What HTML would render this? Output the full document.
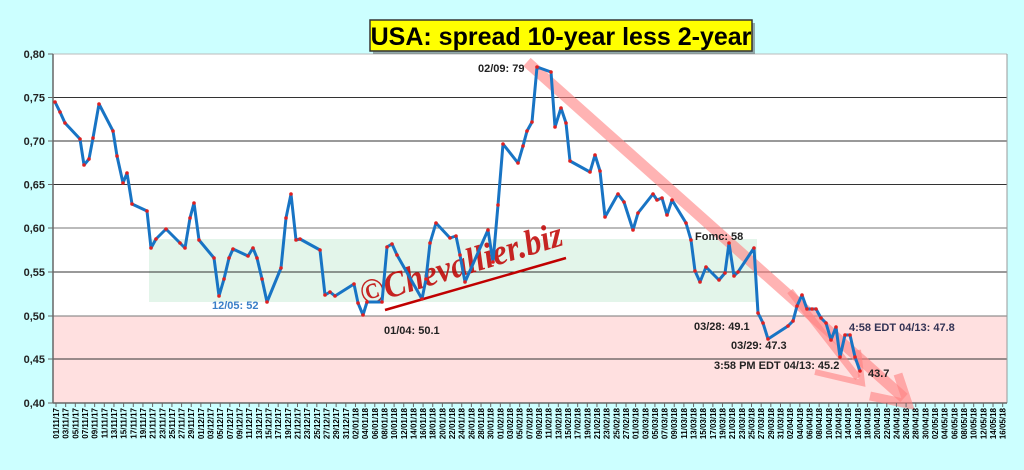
<!DOCTYPE html>
<html><head><meta charset="utf-8"><style>
html,body{margin:0;padding:0;background:#ccffff;}
svg{display:block;font-family:"Liberation Sans",Arial,sans-serif;}
</style></head><body>
<svg width="1024" height="470" viewBox="0 0 1024 470" xmlns="http://www.w3.org/2000/svg">
<rect x="0" y="0" width="1024" height="470" fill="#ccffff"/>
<rect x="53" y="54" width="954" height="349" fill="#ffffff"/>
<rect x="53" y="316" width="954" height="87" fill="#ffe0e0"/>
<rect x="149" y="239" width="608" height="63" fill="#e3f5ea"/>
<g stroke="#333" stroke-width="1">
<line x1="53" y1="97.5" x2="1007" y2="97.5"/>
<line x1="53" y1="141" x2="1007" y2="141"/>
<line x1="53" y1="184.5" x2="1007" y2="184.5"/>
<line x1="53" y1="228" x2="1007" y2="228" stroke="#777"/>
<line x1="53" y1="272" x2="1007" y2="272"/>
<line x1="53" y1="316" x2="1007" y2="316" stroke="#777"/>
<line x1="53" y1="359" x2="1007" y2="359"/>
</g>
<line x1="53" y1="54" x2="1007" y2="54" stroke="#bbb"/>
<line x1="1007" y1="54" x2="1007" y2="403" stroke="#999"/>
<line x1="53" y1="54" x2="53" y2="403" stroke="#666" stroke-width="1.5"/>
<line x1="53" y1="403" x2="1007" y2="403" stroke="#666" stroke-width="1.5"/>
<g stroke="#666" stroke-width="1">
<line x1="48" y1="54" x2="53" y2="54"/><line x1="48" y1="97.5" x2="53" y2="97.5"/><line x1="48" y1="141" x2="53" y2="141"/><line x1="48" y1="184.5" x2="53" y2="184.5"/><line x1="48" y1="228" x2="53" y2="228"/><line x1="48" y1="272" x2="53" y2="272"/><line x1="48" y1="316" x2="53" y2="316"/><line x1="48" y1="359" x2="53" y2="359"/><line x1="48" y1="403" x2="53" y2="403"/>
</g>
<g font-size="11" font-weight="bold" fill="#222" text-anchor="end">
<text x="45" y="58">0,80</text><text x="45" y="101.5">0,75</text><text x="45" y="145">0,70</text><text x="45" y="188.5">0,65</text><text x="45" y="232">0,60</text><text x="45" y="276">0,55</text><text x="45" y="320">0,50</text><text x="45" y="363">0,45</text><text x="45" y="407">0,40</text>
</g>
<!-- watermark -->
<text x="0" y="0" transform="translate(364,306) rotate(-17)" font-family="'Liberation Serif',serif" font-style="italic" font-weight="bold" font-size="36" fill="#c00000" opacity="0.85" textLength="210" lengthAdjust="spacingAndGlyphs">©Chevallier.biz</text>
<line x1="385" y1="310" x2="566" y2="258" stroke="#c00000" stroke-width="2.5"/>
<!-- red arrows -->
<g stroke="#ff8080" stroke-opacity="0.6" fill="none" stroke-linecap="butt">
<line x1="527" y1="62" x2="904" y2="398" stroke-width="11"/>
<polyline points="870,396 908,404 898,374" stroke-width="9"/>
<line x1="790" y1="291" x2="858" y2="378" stroke-width="7"/>
<polyline points="815,372 862,383 858,350" stroke-width="6"/>
</g>
<!-- series -->
<polyline id="ser" fill="none" stroke="#1874c4" stroke-width="3" stroke-linejoin="round" points="55,102 60,112 65,123 80,139 84,165 89,159 93,138 99,104 113,131 117,156 123,183 127,173 132,204 147,211 151,248 156,239 166,229 180,243 185,248 190,218 194,203 199,240 214,258 219,296 224,279 229,258 233,249 248,256 253,248 257,258 262,279 267,302 281,268 286,218 291,194 296,240 300,239 320,250 325,295 330,292 335,296 354,284 358,303 363,315 367,302 382,302 387,247 392,244 397,255 422,299 426,279 430,243 436,223 450,238 456,236 460,255 465,282 488,230 493,262 498,205 503,144 518,163 523,146 527,131 532,122 537,67 551,72 555,127 561,108 566,123 570,161 590,172 595,155 600,171 605,217 618,194 624,202 633,230 638,213 653,194 657,200 662,198 667,215 672,200 686,223 691,240 695,271 700,282 706,267 719,280 725,273 729,243 734,276 738,272 754,248 758,313 763,323 768,339 788,326 793,321 797,306 802,295 807,309 812,309 816,309 821,318 826,323 831,340 836,327 840,357 845,335 850,335 855,357 860,371"/>
<g fill="#e02020" id="pts"></g>
<!-- annotations -->
<g font-size="11" font-weight="bold" fill="#222">
<text x="212" y="309" fill="#3a7fc8">12/05: 52</text>
<text x="384" y="334">01/04: 50.1</text>
<text x="478" y="72">02/09: 79</text>
<text x="695" y="240">Fomc: 58</text>
<text x="694" y="330">03/28: 49.1</text>
<text x="731" y="349">03/29: 47.3</text>
<text x="714" y="369">3:58 PM EDT 04/13: 45.2</text>
<text x="849" y="331" fill="#333355">4:58 EDT 04/13: 47.8</text>
<text x="868" y="377">43.7</text>
</g>
<!-- title -->
<rect x="373" y="23" width="382" height="31" fill="#555" opacity="0.5"/>
<rect x="370" y="20" width="382" height="31" fill="#ffff00" stroke="#333" stroke-width="1.5"/>
<text x="561" y="45" text-anchor="middle" font-size="25" font-weight="bold" fill="#000">USA: spread 10-year less 2-year</text>
<g id="xt"></g>
<g id="xl" font-size="8" font-weight="bold" fill="#000"></g>
</svg>
<script>
(function(){
var ns="http://www.w3.org/2000/svg";
var pl=document.getElementById("ser").getAttribute("points").trim().split(/\s+/);
var g=document.getElementById("pts");
pl.forEach(function(p){var a=p.split(",");var c=document.createElementNS(ns,"circle");c.setAttribute("cx",a[0]);c.setAttribute("cy",a[1]);c.setAttribute("r","1.8");g.appendChild(c);});
var xt=document.getElementById("xt"),xl=document.getElementById("xl");
var d=new Date(2017,10,1);
for(var i=0;i<99;i++){
 var x=56+i*9.66;
 var t=document.createElementNS(ns,"line");t.setAttribute("x1",x);t.setAttribute("x2",x);t.setAttribute("y1",403);t.setAttribute("y2",407);t.setAttribute("stroke","#666");xt.appendChild(t);
 var dd=("0"+d.getDate()).slice(-2),mm=("0"+(d.getMonth()+1)).slice(-2),yy=String(d.getFullYear()).slice(-2);
 var tx=document.createElementNS(ns,"text");tx.setAttribute("transform","translate("+(x+3)+",408) rotate(-90)");tx.setAttribute("text-anchor","end");tx.textContent=dd+"/"+mm+"/"+yy;xl.appendChild(tx);
 d.setDate(d.getDate()+2);
}
})();
</script>
</body></html>
